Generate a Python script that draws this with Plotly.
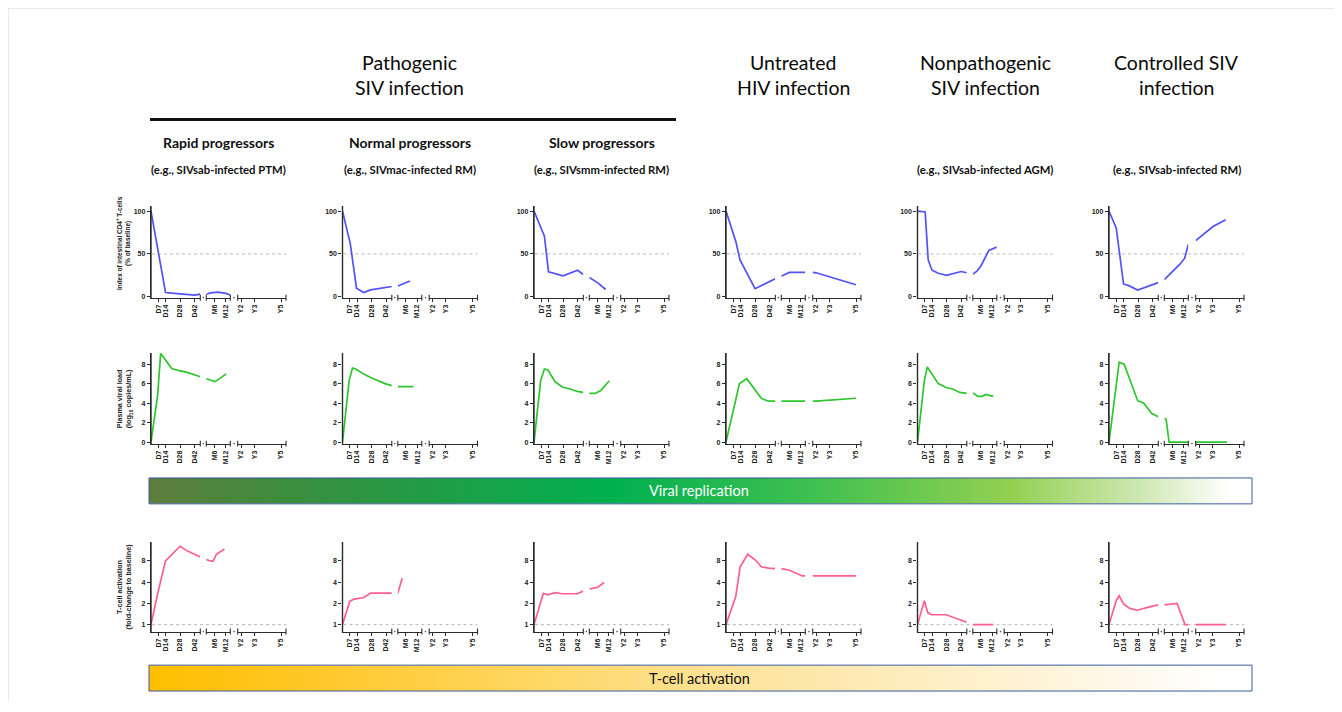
import math
import plotly.graph_objects as go

# ---------------- data ----------------
DAY_TICKS = [7, 14, 28, 42]
DAY_LABELS = ["D7", "D14", "D28", "D42"]
MONTH_TICKS = [6, 12]
MONTH_LABELS = ["M6", "M12"]
YEAR_TICKS = [2, 3, 5]
YEAR_LABELS = ["Y2", "Y3", "Y5"]

GROUP_TITLES = [["Pathogenic", "SIV infection"], ["Untreated", "HIV infection"],
                ["Nonpathogenic", "SIV infection"], ["Controlled SIV", "infection"]]
GROUP_COLUMNS = [1, 3, 4, 5]
COLUMN_SUBTITLES = ["Rapid progressors", "Normal progressors", "Slow progressors", "", "", ""]
COLUMN_EXAMPLES = ["(e.g., SIVsab-infected PTM)", "(e.g., SIVmac-infected RM)",
                   "(e.g., SIVsmm-infected RM)", "", "(e.g., SIVsab-infected AGM)",
                   "(e.g., SIVsab-infected RM)"]
ROW_TITLES = ["Index of intestinal CD4<sup>+</sup> T-cells<br>(% of baseline)",
              "Plasma viral load<br>(log<sub>10</sub> copies/mL)",
              "T-cell activation<br>(fold-change to baseline)"]
BAR_LABELS = ["Viral replication", "T-cell activation"]

CD4_TICKS = [0, 50, 100]
VL_TICKS = [0, 2, 4, 6, 8]
TACT_TICKS = [1, 2, 4, 8]

# each panel: (days segment, months segment, years segment); segment = (x, y) or None
CD4_RAPID = (([0, 14, 28, 42, 47.5], [100, 5, 3.5, 2, 3]),
             ([1.8, 4, 8, 12, 14.4], [3, 4.5, 5.5, 4, 2]), None)
CD4_NORMAL = (([0, 7.5, 13.5, 20.5, 27, 47.5], [100, 62, 10, 5, 8, 12]),
              ([1.8, 8.2], [12.5, 18.5]), None)
CD4_SLOW = (([0, 10, 14, 28, 42, 47.5], [100, 71, 29, 24.5, 31, 26]),
            ([1.8, 6.5, 10.4], [22.5, 16, 8.5]), None)
CD4_HIV = (([0, 9.6, 13.5, 28, 47.5], [100, 64, 43, 9.5, 21]),
           ([1.8, 6, 14.4], [24, 28.5, 28.5]),
           ([1.75, 2, 5], [28.5, 28, 14]))
CD4_NONPATH = (([0, 7.4, 10.3, 14, 20, 28, 42, 47.5], [100, 99, 43, 31, 27.5, 25, 29.5, 28]),
               ([1.8, 4, 6.2, 10.2, 14.4], [26.5, 30, 36.5, 54, 58]), None)
CD4_CONTROL = (([0, 7, 14, 19, 27.6, 47.5], [100, 80, 15, 13, 7.8, 16.5]),
               ([1.8, 6.7, 10, 12.5, 14.4], [20, 30.5, 38, 45, 61]),
               ([1.75, 3.05, 4.0], [65.5, 82, 90]))

VL_RAPID = (([0, 6.4, 9.3, 20, 28, 35, 47.5], [0, 4.8, 9.1, 7.55, 7.3, 7.15, 6.7]),
            ([1.8, 6.5, 12.3], [6.5, 6.2, 7.0]), None)
VL_NORMAL = (([0, 6.4, 9.6, 12.8, 20, 27.6, 41, 47.5], [0, 6.3, 7.6, 7.5, 7.0, 6.6, 6.0, 5.8]),
             ([1.8, 10], [5.7, 5.7]), None)
VL_SLOW = (([0, 6.4, 10, 13.5, 20.2, 27.3, 34.7, 41.7, 47.5],
            [0, 6.3, 7.5, 7.4, 6.2, 5.65, 5.45, 5.2, 5.1]),
           ([1.8, 4.8, 7.8, 12.3], [5.0, 5.0, 5.3, 6.3]), None)
VL_HIV = (([0, 13, 20, 34, 41, 47.5], [0, 6.0, 6.5, 4.5, 4.2, 4.2]),
          ([1.8, 14.4], [4.2, 4.2]),
          ([1.75, 2, 5], [4.2, 4.2, 4.5]))
VL_NONPATH = (([0, 6.6, 9.4, 20, 27.5, 33.8, 40.8, 47.5], [0, 6.3, 7.7, 6.0, 5.6, 5.45, 5.1, 5.0]),
              ([1.8, 4.5, 6.8, 8.7, 12.5], [5.05, 4.7, 4.7, 4.9, 4.7]), None)
VL_CONTROL = (([0, 9.8, 14.6, 27.6, 33.5, 41, 47.5], [0, 8.2, 8.0, 4.25, 4.0, 2.95, 2.6]),
              ([1.8, 2.8, 4.3, 14.4], [2.45, 2.3, 0, 0]),
              ([1.75, 4.1], [0, 0]))

TACT_RAPID = (([0, 7, 14, 28, 34.7, 47.5], [1, 3.0, 8, 12.9, 11.1, 9.1]),
              ([1.8, 3.1, 5.3, 7.1, 11.3], [8.4, 8.1, 7.9, 9.9, 11.8]), None)
TACT_NORMAL = (([0, 7, 11, 20, 27.3, 47.5], [1, 2.13, 2.3, 2.4, 2.8, 2.8]),
               ([1.8, 4.1], [2.77, 4.55]), None)
TACT_SLOW = (([0, 9, 13, 20, 27, 42, 47.5], [1, 2.77, 2.65, 2.83, 2.74, 2.74, 3.0]),
             ([1.8, 6.0, 9.6], [3.2, 3.37, 3.96]), None)
TACT_HIV = (([0, 9.4, 13.6, 21, 28, 34, 41, 47.5], [1, 2.5, 6.6, 9.9, 8.3, 6.6, 6.3, 6.2]),
            ([1.8, 6.2, 12.8, 14.4], [6.2, 5.9, 4.9, 4.9]),
            ([1.75, 5], [4.9, 4.9]))
TACT_NONPATH = (([0, 6.6, 9.8, 13.5, 27.6, 47.5], [1, 2.18, 1.48, 1.38, 1.38, 1.08]),
                ([1.8, 12.5], [1, 1]), None)
TACT_CONTROL = (([0, 7, 9.8, 14, 20, 27, 40, 47.5], [1, 2.2, 2.56, 1.96, 1.7, 1.6, 1.8, 1.9]),
                ([1.8, 8.5, 12.7, 14.4], [1.9, 2.0, 1.0, 1.0]),
                ([1.75, 4.0], [1, 1]))

ROWS = [[CD4_RAPID, CD4_NORMAL, CD4_SLOW, CD4_HIV, CD4_NONPATH, CD4_CONTROL],
        [VL_RAPID, VL_NORMAL, VL_SLOW, VL_HIV, VL_NONPATH, VL_CONTROL],
        [TACT_RAPID, TACT_NORMAL, TACT_SLOW, TACT_HIV, TACT_NONPATH, TACT_CONTROL]]
ROW_TICKS = [CD4_TICKS, VL_TICKS, TACT_TICKS]
ROW_REFLINE = [50, None, 1]

# ---------------- geometry / style ----------------
W, H, OFF = 1326, 696, 8


def px(x):
    return (x - OFF) / W


def py(y):
    return 1 - (y - OFF) / H


COL_X = [151, 342.5, 534, 726, 917.5, 1109]
PANEL_W = 135
SEG_PX = [(0, 49.3), (55.3, 79.3), (86.7, 135)]
SEG_RANGE = [(0, 47.5), (1.8, 14.4), (1.75, 5.375)]
SEG_TICKS = [(DAY_TICKS, DAY_LABELS), (MONTH_TICKS, MONTH_LABELS), (YEAR_TICKS, YEAR_LABELS)]
ROW_PX = [(206.8, 298.9), (354.4, 445.5), (544.3, 634.3)]
ROW_RANGE = [(-1, 106), (-0.15, 9.15), (-0.099, 1.171)]
ROW_COLORS = ["#5252f7", "#2ec52e", "#ff5f8f"]

AX_FONT = "Liberation Sans, Arial, sans-serif"
HEAD_FONT = "Lato, Carlito, Calibri, sans-serif"
AX_COLOR = "#2b2b2b"


def row_page_y(r, v):
    top, bot = ROW_PX[r]
    lo, hi = ROW_RANGE[r]
    val = math.log10(v) if r == 2 else v
    return bot - (val - lo) / (hi - lo) * (bot - top)


fig = go.Figure()
layout = {}
shapes = []
annotations = []

for r in range(3):
    rtop, rbot = ROW_PX[r]
    for c in range(6):
        p = r * 6 + c
        yid = p + 1
        yname = "yaxis" if yid == 1 else f"yaxis{yid}"
        yref = "y" if yid == 1 else f"y{yid}"
        ax0 = COL_X[c]
        panel = ROWS[r][c]
        first_xref = None
        for s in range(3):
            xid = p * 3 + s + 1
            xname = "xaxis" if xid == 1 else f"xaxis{xid}"
            xref = "x" if xid == 1 else f"x{xid}"
            if s == 0:
                first_xref = xref
            tv, tt = SEG_TICKS[s]
            layout[xname] = dict(
                domain=[px(ax0 + SEG_PX[s][0]), px(ax0 + SEG_PX[s][1])],
                range=list(SEG_RANGE[s]), anchor=yref, tickmode="array",
                tickvals=tv, ticktext=tt, tickangle=-90, showline=True,
                linecolor=AX_COLOR, linewidth=1.4, ticks="outside", ticklen=3,
                tickwidth=1.1, tickcolor=AX_COLOR, showgrid=False, zeroline=False,
                tickfont=dict(family=AX_FONT, size=7, color="#222", weight="bold"),
                fixedrange=True)
            seg = panel[s]
            if seg is not None:
                fig.add_trace(go.Scatter(
                    x=seg[0], y=seg[1], xaxis=xref, yaxis=yref, mode="lines",
                    line=dict(color=ROW_COLORS[r], width=1.7), hoverinfo="skip",
                    showlegend=False))
            else:
                # empty trace so that the (data-less) axis segment is still drawn
                fig.add_trace(go.Scatter(
                    x=[None], y=[None], xaxis=xref, yaxis=yref, mode="lines",
                    hoverinfo="skip", showlegend=False))
            # break caps at segment ends
            ends = [SEG_PX[s][1]] if s == 0 else [SEG_PX[s][0], SEG_PX[s][1]]
            for e in ends:
                shapes.append(dict(type="line", xref="paper", yref="paper",
                                   x0=px(ax0 + e), x1=px(ax0 + e),
                                   y0=py(rbot + 3), y1=py(rbot - 3),
                                   line=dict(color=AX_COLOR, width=1.1)))
        # dots in the gaps
        for gc in [(SEG_PX[0][1] + SEG_PX[1][0]) / 2, (SEG_PX[1][1] + SEG_PX[2][0]) / 2]:
            shapes.append(dict(type="circle", xref="paper", yref="paper",
                               x0=px(ax0 + gc - 0.8), x1=px(ax0 + gc + 0.8),
                               y0=py(rbot + 0.8), y1=py(rbot - 0.8),
                               fillcolor="#555", line=dict(width=0)))
        # y axis line
        shapes.append(dict(type="line", xref="paper", yref="paper",
                           x0=px(ax0), x1=px(ax0), y0=py(rbot + 0.7), y1=py(rtop),
                           line=dict(color=AX_COLOR, width=1.4)))
        ticks = ROW_TICKS[r]
        lo, hi = ROW_RANGE[r]
        layout[yname] = dict(
            domain=[py(rbot), py(rtop)], range=[lo, hi],
            type="log" if r == 2 else "linear", anchor=first_xref,
            tickmode="array", tickvals=ticks, ticktext=[str(t) for t in ticks],
            showline=True, linecolor=AX_COLOR, linewidth=1.4, ticks="outside",
            ticklen=3, tickwidth=1.1, tickcolor=AX_COLOR, showgrid=False,
            zeroline=False, tickfont=dict(family=AX_FONT, size=7, color="#222", weight="bold"),
            fixedrange=True)
        ref = ROW_REFLINE[r]
        if ref is not None:
            yy = row_page_y(r, ref)
            shapes.append(dict(type="line", xref="paper", yref="paper",
                               x0=px(ax0 + 1), x1=px(ax0 + PANEL_W), y0=py(yy), y1=py(yy),
                               line=dict(color="#b9b9b9", width=1, dash="dot"), layer="below"))

# row titles (column 1 only)
ROW_TITLE_Y = [244, 400, 589]
ROW_TITLE_SIZE = [6.4, 7.2, 7.2]
for r in range(3):
    annotations.append(dict(text=ROW_TITLES[r], xref="paper", yref="paper",
                            x=px(124), y=py(ROW_TITLE_Y[r]), textangle=-90,
                            showarrow=False, xanchor="center", yanchor="middle",
                            font=dict(family=AX_FONT, size=ROW_TITLE_SIZE[r], color="#222",
                                      weight="bold")))

# group headers
for g, lines in enumerate(GROUP_TITLES):
    cx = COL_X[GROUP_COLUMNS[g]] + PANEL_W / 2
    for k, line in enumerate(lines):
        annotations.append(dict(text=line, xref="paper", yref="paper", x=px(cx),
                                y=py(63 + 25 * k), showarrow=False, xanchor="center",
                                yanchor="middle",
                                font=dict(family=HEAD_FONT, size=19.5, color="#0a0a0a")))
# underline for pathogenic group
shapes.append(dict(type="line", xref="paper", yref="paper", x0=px(150), x1=px(676),
                   y0=py(120), y1=py(120), line=dict(color="#111", width=3)))

for c in range(6):
    cx = COL_X[c] + PANEL_W / 2
    if COLUMN_SUBTITLES[c]:
        annotations.append(dict(text=COLUMN_SUBTITLES[c], xref="paper", yref="paper",
                                x=px(cx), y=py(143), showarrow=False, xanchor="center",
                                yanchor="middle",
                                font=dict(family=HEAD_FONT, size=14, color="#111",
                                          weight="bold")))
    if COLUMN_EXAMPLES[c]:
        annotations.append(dict(text=COLUMN_EXAMPLES[c], xref="paper", yref="paper",
                                x=px(cx), y=py(170), showarrow=False, xanchor="center",
                                yanchor="middle",
                                font=dict(family=HEAD_FONT, size=11.3, color="#111",
                                          weight="bold")))

# gradient bars
BAR_Y = [(480, 506), (668, 694)]
BAR_X = (149, 1252)
BAR_SCALES = [
    [[0, "#5d7d3b"], [0.15, "#36903f"], [0.42, "#00b050"], [0.6, "#3fc050"],
     [0.78, "#92d050"], [0.9, "#cfe8b4"], [0.98, "#ffffff"], [1, "#ffffff"]],
    [[0, "#ffbe00"], [0.25, "#ffcf45"], [0.55, "#fde5a0"], [0.8, "#fef3d6"],
     [0.97, "#ffffff"], [1, "#ffffff"]],
]
BAR_TEXT_COLORS = ["#ffffff", "#111111"]
for b in range(2):
    xid, yid = 55 + b, 19 + b
    xref, yref = f"x{xid}", f"y{yid}"
    layout[f"xaxis{xid}"] = dict(domain=[px(BAR_X[0]), px(BAR_X[1])], range=[0, 1],
                                 visible=False, anchor=yref, fixedrange=True)
    layout[f"yaxis{yid}"] = dict(domain=[py(BAR_Y[b][1]), py(BAR_Y[b][0])], range=[0, 1],
                                 visible=False, anchor=xref, fixedrange=True)
    fig.add_trace(go.Scatter(x=[0, 1, 1, 0, 0], y=[0, 0, 1, 1, 0], xaxis=xref, yaxis=yref,
                             mode="lines", fill="toself", line=dict(width=0),
                             fillgradient=dict(type="horizontal", colorscale=BAR_SCALES[b]),
                             hoverinfo="skip", showlegend=False))
    shapes.append(dict(type="rect", xref="paper", yref="paper", x0=px(BAR_X[0]),
                       x1=px(BAR_X[1]), y0=py(BAR_Y[b][1]), y1=py(BAR_Y[b][0]),
                       line=dict(color="#3c5a9a", width=1)))
    annotations.append(dict(text=BAR_LABELS[b], xref="paper", yref="paper",
                            x=px(699), y=py((BAR_Y[b][0] + BAR_Y[b][1]) / 2),
                            showarrow=False, xanchor="center", yanchor="middle",
                            font=dict(family=HEAD_FONT, size=14.5, color=BAR_TEXT_COLORS[b])))

# faint page frame (top and left edges)
shapes.append(dict(type="line", xref="paper", yref="paper", x0=0, x1=1, y0=1, y1=1,
                   line=dict(color="#d4d4d4", width=1)))
shapes.append(dict(type="line", xref="paper", yref="paper", x0=0, x1=0, y0=0, y1=1,
                   line=dict(color="#d4d4d4", width=1)))

fig.update_layout(**layout)
fig.update_layout(width=W, height=H, margin=dict(l=0, r=0, t=0, b=0),
                  paper_bgcolor="white", plot_bgcolor="white", showlegend=False,
                  shapes=shapes, annotations=annotations, hovermode=False)
fig.write_html("out.html")
